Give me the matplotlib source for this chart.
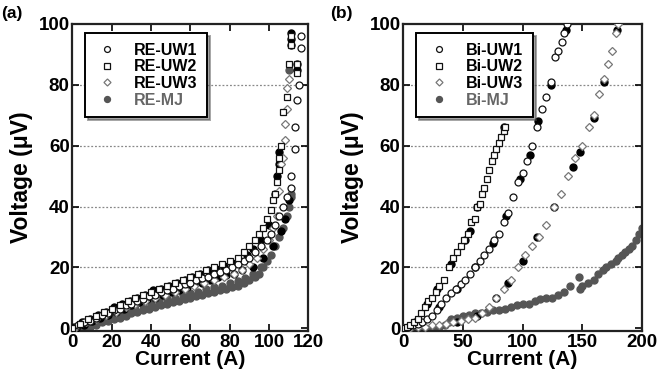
import matplotlib
matplotlib.use('Agg')
import matplotlib.pyplot as plt

plt.rcParams['font.family'] = ['Liberation Sans', 'DejaVu Sans']
plt.rcParams['font.weight'] = 'bold'

# ---- panel (a) data, RE tapes ----
re_uw1_i = [0, 3, 6, 9, 12, 15, 18, 21, 24, 27, 30, 33, 36, 39, 42, 45, 48, 51, 54, 57,
            60, 63, 66, 69, 72, 75, 78, 81, 84, 87, 90, 93, 96, 99,
            101, 103, 105, 107, 109, 111, 111, 113, 113, 114, 115, 116, 116]
re_uw1_v = [0, 1, 2, 2.5, 3.5, 4.5, 5, 6, 6.5, 7.5, 8, 9, 9.5, 10.5, 11, 12, 12.5, 13, 14, 14.5,
            15, 16, 16.5, 17, 18, 18.5, 19, 20, 21, 22, 23, 25, 27, 29,
            31, 34, 37, 40, 43, 46, 50, 59, 66, 75, 80, 92, 96]

re_uw2_i = [0, 4, 8, 12, 16, 20, 24, 28, 32, 36, 40, 44, 48, 52, 56, 60, 64, 68, 72, 76, 80, 84,
            87, 90, 93, 95, 97, 99, 101, 102, 103, 104,
            105, 105, 106, 107, 109, 110, 111, 111, 114, 114]
re_uw2_v = [0, 1.5, 3, 4, 5.5, 6.5, 7.5, 9, 10, 11, 12, 13, 14, 15, 16, 17, 18, 19, 20, 21, 22, 23,
            25, 27, 29, 31, 33, 36, 39, 42, 44, 48,
            52, 56, 60, 71, 76, 87, 93, 96, 84, 87]

re_uw3_i = [2, 7, 12, 17, 22, 27, 32, 37, 42, 47, 52, 57, 62, 67, 72, 77, 82,
            86, 90, 94, 97, 100, 102, 104, 105, 106, 107, 108, 108, 109, 109, 110]
re_uw3_v = [0.5, 2, 3, 4.5, 5.5, 7, 8, 9, 10, 11, 12, 13, 14, 15, 16, 17, 18,
            19, 21, 23, 26, 29, 33, 37, 45, 54, 56, 62, 67, 72, 79, 82]

re_mj_i = [0, 3, 6, 9, 12, 15, 18, 21, 24, 27, 30, 33, 36, 39, 42, 45, 48, 51, 54, 57,
           60, 63, 66, 69, 72, 75, 78, 81, 84, 87, 90,
           93, 95, 97, 99, 101, 103, 105, 107, 109, 110, 111, 111, 110]
re_mj_v = [-0.5, 0, 0, 0.5, 1, 2, 2.5, 3, 3.5, 4, 5, 5.5, 6, 6.5, 7, 7.5, 8, 8.5, 9, 9.5,
           10, 10.5, 11, 11.5, 12, 12.5, 13, 13.5, 14, 15, 16,
           17, 18, 20, 22, 24, 27, 30, 33, 37, 40, 43, 44, 85]
# second sweep of RE-MJ (upper edge of the grey band)
re_mj2_i = [4, 8, 12, 16, 20, 24, 28, 32, 36, 40, 44, 48, 52, 56, 60, 64, 68, 72, 76, 80,
            84, 88, 92, 96]
re_mj2_v = [1, 1.5, 2.5, 3.5, 4.5, 5, 6, 6.5, 7.5, 8, 9, 9.5, 10, 11, 11.5, 12, 13, 13.5, 14, 15,
            15.5, 16.5, 18, 20]

# dense black points (repeat runs)
re_blk_i = [1, 5, 9, 13, 17, 21, 25, 29, 33, 37, 41, 45, 49, 53, 57, 61, 65, 69, 73, 77, 81, 85,
            89, 92, 96, 100, 103, 104, 105, 105, 110, 111, 111, 111, 114, 114]
re_blk_v = [0.5, 2, 3, 4.5, 5.5, 7, 8, 9, 10, 11, 12.5, 13, 14, 15, 16, 17, 18, 19, 19.5, 20.5, 21.5, 22,
            24, 26, 29, 34, 44, 50, 54, 58, 42, 93, 95, 97, 85, 87]
re_blk2_i = [2, 6, 10, 14, 18, 22, 26, 30, 34, 38, 42, 46, 50, 54, 58, 62, 66, 70, 74, 78, 82, 86,
             92, 97, 102, 106, 108]
re_blk2_v = [0, 1, 2.5, 3.5, 4.5, 5.5, 6.5, 7.5, 8.5, 9.5, 10, 11, 12, 12.5, 13.5, 14.5, 15, 16, 17, 17.5, 18, 19,
             20, 23, 27, 32, 36]

# ---- panel (b) data, Bi tapes ----
bi_uw1_i = [0, 4, 8, 12, 16, 20, 24, 28, 32, 36, 40, 44, 48, 52, 56, 60, 64, 68, 72, 76,
            80, 84, 88, 92, 96, 100, 104, 108, 112, 116, 120, 124, 127, 130, 133, 135, 137]
bi_uw1_v = [0, 0.5, 1, 1.5, 2, 3, 4, 6, 8, 10, 11.5, 13, 14.5, 16, 18, 20, 22, 24, 26, 29,
            31, 35, 38, 43, 48, 51, 55, 60, 66, 72, 76, 81, 89, 91, 94, 97, 100]

bi_uw2_i = [0, 3, 6, 9, 12, 15, 18, 21, 24, 27, 30, 34, 38, 42, 45, 48, 51, 54, 57, 60,
            62, 64, 66, 68, 70, 72, 74, 76, 78, 80, 82, 84, 85]
bi_uw2_v = [0, 0.5, 1, 2, 3, 5, 7, 9, 10, 12, 14, 16, 20, 23, 25, 27, 29, 31, 35, 36,
            40, 41, 44, 46, 49, 52, 55, 57, 59, 61, 63, 65, 66]

bi_uw3_i = [0, 6, 12, 18, 24, 30, 36, 42, 48, 54, 60, 66, 72, 78, 84, 90, 96, 102, 108, 114,
            120, 126, 132, 138, 144, 150, 156, 160, 164, 168, 172, 175, 178, 180]
bi_uw3_v = [0, 0, 0.5, 0.5, 1, 1, 1.5, 2, 2.5, 3, 3.5, 5, 7, 10, 13, 16, 20, 24, 27, 30,
            34, 40, 44, 50, 56, 60, 66, 70, 77, 82, 87, 91, 97, 100]

bi_mj_i = [0, 5, 10, 15, 20, 25, 30, 35, 38, 40, 45, 50, 55, 60, 65, 70, 75, 80, 85, 90,
           95, 100, 105, 110, 115, 120, 125, 130, 135, 140, 147, 148, 150, 155, 160, 163, 167, 170, 174, 178,
           180, 183, 186, 189, 192, 195, 198, 200]
bi_mj_v = [0, -0.5, -0.5, -1, -1, 0, 0.5, 1, 2, 3, 3.5, 4, 4.5, 5, 5, 5.5, 6, 6, 6.5, 7,
           7.5, 8, 8, 9, 9.5, 10, 10, 11, 12, 14, 17, 13, 14, 15, 16, 18, 19, 20, 21, 22,
           23, 24, 25, 26, 27, 29, 31, 33]

bi_blk_i = [10, 20, 28, 40, 52, 56, 62, 84,
            15, 30, 45, 60, 75, 86, 98, 106, 113, 124, 136,
            45, 62, 78, 88, 100, 112, 126, 142, 148, 160, 168, 179]
bi_blk_v = [2, 8, 13, 21, 29, 32, 40, 66,
            1.5, 7, 13, 20, 28, 37, 49, 57, 68, 80, 98,
            2, 4, 10, 15, 22, 30, 40, 53, 58, 69, 81, 98]

yticks = [0, 20, 40, 60, 80, 100]
xticks_a = [0, 20, 40, 60, 80, 100, 120]
xticks_b = [0, 50, 100, 150, 200]

fig = plt.figure(figsize=(6.59, 3.69), dpi=100)
ax1 = fig.add_axes([0.110, 0.102, 0.358, 0.833])
ax2 = fig.add_axes([0.612, 0.102, 0.362, 0.833])

ms = 5.0
gray = '#555555'


def style_axes(ax, xticks, xmax):
    ax.set_xlim(0, xmax)
    ax.set_ylim(-1, 100)
    ax.set_xticks(xticks)
    ax.set_yticks(yticks)
    for y in [20, 40, 60, 80]:
        ax.axhline(y, color='#888888', linestyle=(0, (1.5, 1.5)), linewidth=0.9, zorder=0)
    for s in ax.spines.values():
        s.set_linewidth(1.6)
        s.set_color('#222222')
    ax.tick_params(direction='in', top=True, right=True, length=5, width=1.2,
                   labelsize=13.5, pad=2)
    for lab in ax.get_xticklabels() + ax.get_yticklabels():
        lab.set_fontweight('bold')
    ax.set_xlabel('Current (A)', fontsize=15, fontweight='bold', labelpad=-1)
    ax.set_ylabel('Voltage (\u03bcV)', fontsize=16.5, fontweight='bold', labelpad=4)


def draw(ax, blk, uw1, uw2, uw3, mj, names):
    ax.plot(mj[0], mj[1], 'o', ms=ms, color=gray, mec=gray, label=names[3], zorder=2)
    for b in blk:
        ax.plot(b[0], b[1], 'o', ms=ms, color='black', mec='black', zorder=3)
    ax.plot(uw3[0], uw3[1], 'D', ms=ms - 0.8, mfc='white', mec='#777777', mew=0.9,
            label=names[2], zorder=4)
    ax.plot(uw1[0], uw1[1], 'o', ms=ms, mfc='white', mec='#111111', mew=0.9,
            label=names[0], zorder=4)
    ax.plot(uw2[0], uw2[1], 's', ms=ms, mfc='white', mec='#111111', mew=0.9,
            label=names[1], zorder=4)


ax1.plot(re_mj2_i, re_mj2_v, 'o', ms=ms, color=gray, mec=gray, zorder=2)
draw(ax1, [(re_blk_i, re_blk_v), (re_blk2_i, re_blk2_v)], (re_uw1_i, re_uw1_v),
     (re_uw2_i, re_uw2_v), (re_uw3_i, re_uw3_v), (re_mj_i, re_mj_v),
     ['RE-UW1', 'RE-UW2', 'RE-UW3', 'RE-MJ'])
draw(ax2, [(bi_blk_i, bi_blk_v)], (bi_uw1_i, bi_uw1_v), (bi_uw2_i, bi_uw2_v),
     (bi_uw3_i, bi_uw3_v), (bi_mj_i, bi_mj_v), ['Bi-UW1', 'Bi-UW2', 'Bi-UW3', 'Bi-MJ'])

style_axes(ax1, xticks_a, 120)
style_axes(ax2, xticks_b, 200)

for ax, anchor in [(ax1, (0.052, 0.97)), (ax2, (0.055, 0.97))]:
    h, l = ax.get_legend_handles_labels()
    order = [2, 3, 1, 0]
    leg = ax.legend([h[k] for k in order], [l[k] for k in order], loc='upper left',
                    bbox_to_anchor=anchor, borderaxespad=0, fancybox=False, shadow=True,
                    framealpha=1, edgecolor='black', handletextpad=0.9,
                    labelspacing=0.1, borderpad=0.6, handlelength=1.6, markerscale=0.85,
                    prop={'weight': 'bold', 'size': 11.5})
    leg.get_frame().set_linewidth(1.4)
    leg.get_texts()[3].set_color('#666666')

fig.text(0.002, 0.952, '(a)', fontsize=12.5, fontweight='bold')
fig.text(0.501, 0.952, '(b)', fontsize=12.5, fontweight='bold')

fig.savefig('out.png', dpi=100)
